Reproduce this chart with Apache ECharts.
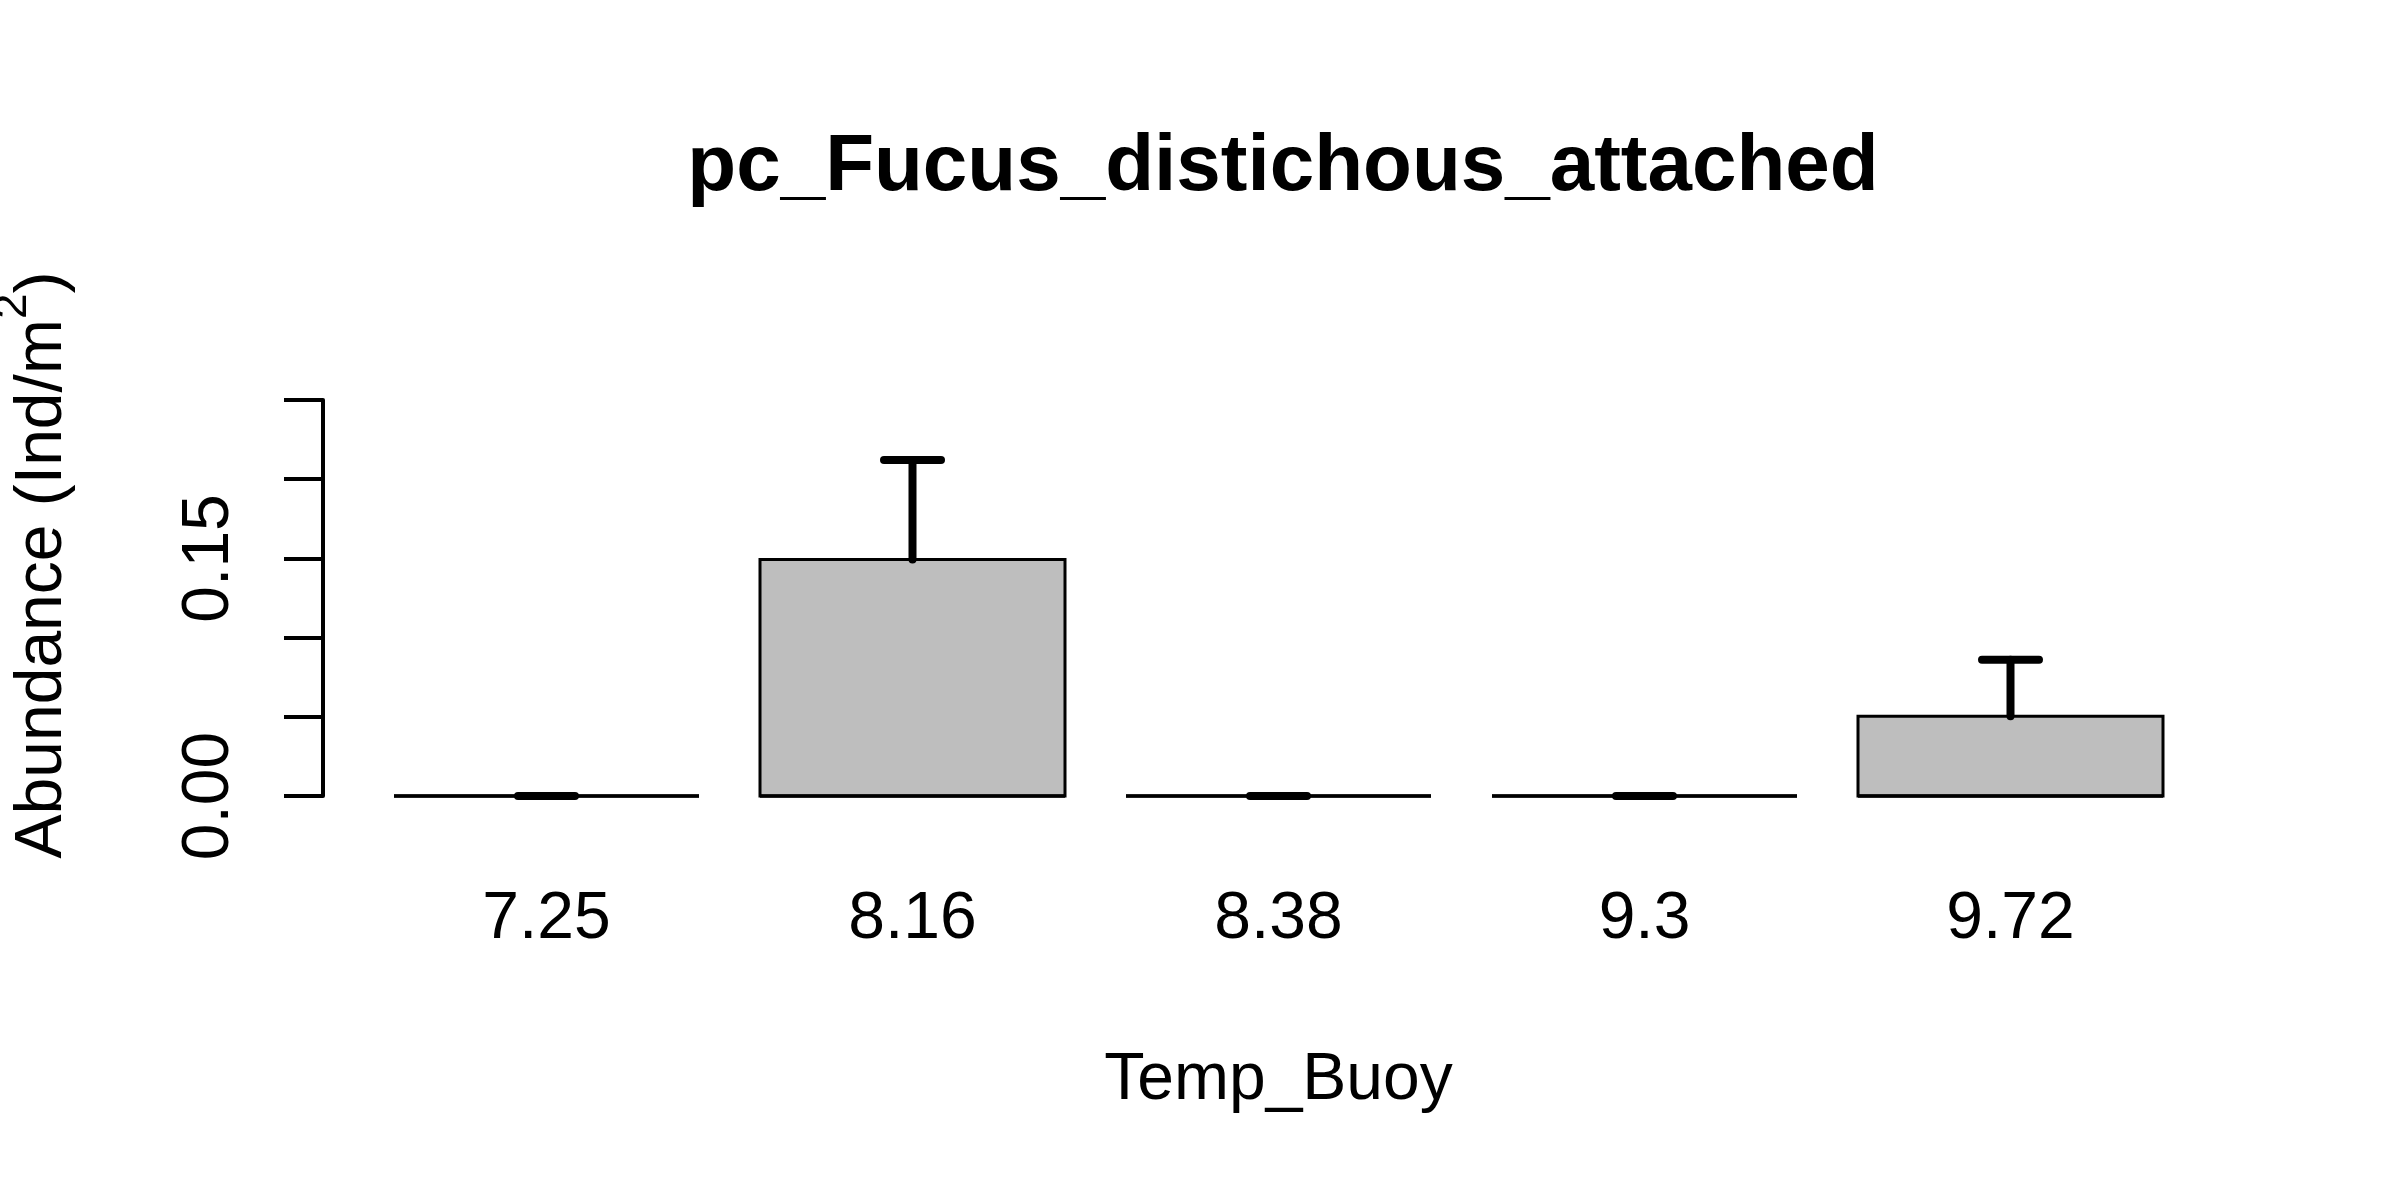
<!DOCTYPE html>
<html>
<head>
<meta charset="utf-8">
<script src="https://cdn.jsdelivr.net/npm/echarts@6/dist/echarts.min.js"></script>
<style>
  html, body { margin: 0; padding: 0; background: #fff; }
  #main { width: 2400px; height: 1200px; }
</style>
</head>
<body>
<div id="main"></div>
<script>
// data
var categories = ['7.25', '8.16', '8.38', '9.3', '9.72'];
var means = [0, 0.1493, 0, 0, 0.0504];
var ses = [0, 0.0628, 0, 0, 0.0356];
var yTicksShown = ['0.00', '0.15'];

var FONT = '"Liberation Sans", Arial, sans-serif';

var chart = echarts.init(document.getElementById('main'));

// bar takes 1 of every 1.2 units (R barplot, space = 0.2)
var barRatio = 1 / 1.2;

function renderBar(params, api) {
	var i = api.value(0);
	var m = api.value(1);
	var s = api.value(2);
	var base = api.coord([i, 0]);
	var top = api.coord([i, m]);
	var hi = api.coord([i, m + s]);
	var bw = api.size([1, 0])[0] * barRatio;
	var x = base[0];
	return {
		type : 'group',
		children : [ {
			type : 'rect',
			shape : { x : x - bw / 2, y : top[1], width : bw, height : base[1] - top[1] },
			style : { fill : '#bebebe', stroke : '#000', lineWidth : 3 }
		}, {
			type : 'line',
			shape : { x1 : x - bw / 2, y1 : base[1], x2 : x + bw / 2, y2 : base[1] },
			style : { stroke : '#000', lineWidth : 3.5 }
		}, {
			type : 'line',
			shape : { x1 : x, y1 : top[1], x2 : x, y2 : hi[1] },
			style : { stroke : '#000', lineWidth : 8, lineCap : 'round' }
		}, {
			type : 'line',
			shape : { x1 : x - 28.5, y1 : hi[1], x2 : x + 28.5, y2 : hi[1] },
			style : { stroke : '#000', lineWidth : 8, lineCap : 'round' }
		} ]
	};
}

var option = {
	backgroundColor : '#fff',
	animation : false,
	title : {
		text : 'pc_Fucus_distichous_attached',
		left : 1278,
		top : 123,
		textAlign : 'center',
		textStyle : {
			fontFamily : FONT,
			fontSize : 80,
			fontWeight : 'bold',
			color : '#000'
		}
	},
	grid : {
		left : 363.5,
		right : 206.5,
		top : 400,
		bottom : 404
	},
	xAxis : {
		type : 'category',
		data : categories,
		axisLine : { show : false },
		axisTick : { show : false },
		axisLabel : {
			fontFamily : FONT,
			fontSize : 66,
			color : '#000',
			margin : 91
		},
		name : 'Temp_Buoy',
		nameLocation : 'middle',
		nameGap : 252,
		nameTextStyle : {
			fontFamily : FONT,
			fontSize : 66,
			color : '#000'
		}
	},
	yAxis : {
		type : 'value',
		min : 0,
		max : 0.25,
		interval : 0.05,
		offset : 40.5,
		splitLine : { show : false },
		axisLine : { show : true, lineStyle : { color : '#000', width : 4 } },
		axisTick : { show : true, length : 39, lineStyle : { color : '#000', width : 4 } },
		axisLabel : {
			rotate : 90,
			margin : 80,
			fontFamily : FONT,
			fontSize : 66,
			color : '#000',
			formatter : function(v) {
				var t = v.toFixed(2);
				return yTicksShown.indexOf(t) >= 0 ? t : '';
			}
		}
	},
	graphic : [ {
		type : 'text',
		x : 36,
		y : 565,
		rotation : Math.PI / 2,
		style : {
			text : '{a|Abundance (Ind/m}{s|2}{a|)}',
			align : 'center',
			verticalAlign : 'middle',
			fill : '#000',
			rich : {
				a : { fontFamily : FONT, fontSize : 66, lineHeight : 80, verticalAlign : 'bottom' },
				s : { fontFamily : FONT, fontSize : 46, lineHeight : 46, verticalAlign : 'bottom', padding : [ 0, 0, 40, 0 ] }
			}
		}
	} ],
	series : [ {
		type : 'custom',
		renderItem : renderBar,
		encode : { x : 0, y : 1 },
		data : means.map(function(m, i) {
			return [ i, m, ses[i] ];
		})
	} ]
};

chart.setOption(option);
</script>
</body>
</html>
